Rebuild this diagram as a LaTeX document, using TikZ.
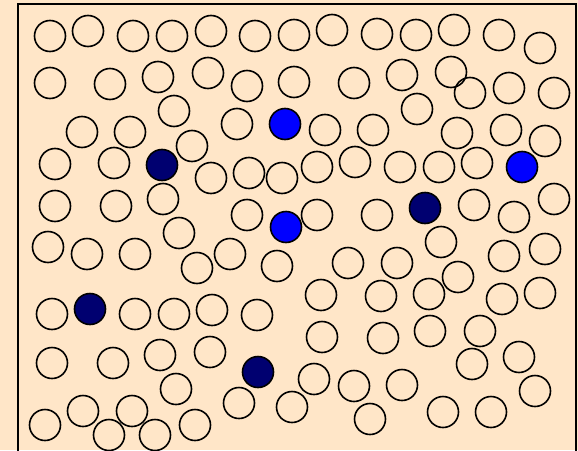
\documentclass[tikz,border=0pt]{standalone}
\definecolor{bg}{HTML}{FFE6C8}
\definecolor{dotblue}{HTML}{0000FF}
\definecolor{dotnavy}{HTML}{000070}
\tikzset{
  ball/.style={circle,draw=black,line width=1.6pt,minimum size=31pt,inner sep=0pt},
  blueball/.style={ball,fill=dotblue},
  navyball/.style={ball,fill=dotnavy},
  frame/.style={draw=black,line width=1.8pt}
}
\begin{document}
\begin{tikzpicture}[x=1pt,y=-1pt]
\useasboundingbox (0,0) rectangle (578,450);
\fill[bg] (0,0) rectangle (578,450);
\begin{scope}
\clip (0,0) rectangle (578,450);
\draw[frame] (18,4) rectangle (576,470);
\end{scope}
\foreach \x/\y [count=\i] in {
50/36,88/31,133/36,172/36,211/31,255/36,294/35,332/30,377/34,416/35,454/30,499/35,540/48,
50/83,110/84,158/77,208/73,247/86,294/82,354/83,402/75,451/72,470/93,509/88,554/93,
174/111,417/109,82/132,130/132,192/146,237/124,325/130,373/130,457/133,506/130,545/141,
55/164,114/163,211/178,249/173,282/178,317/167,355/162,400/167,439/167,477/163,
55/206,116/206,163/199,247/215,317/215,377/215,474/205,514/217,554/199,
179/233,441/242,48/247,87/254,135/254,197/268,230/254,277/266,348/263,397/263,458/277,504/256,545/249,
321/295,381/296,429/294,502/299,540/293,52/314,135/314,174/314,212/310,257/315,
322/337,383/338,430/331,480/331,52/363,113/363,160/355,210/352,314/379,354/386,402/385,472/364,519/357,176/389,535/391,
83/411,132/411,45/425,109/435,155/435,195/425,239/403,292/407,370/419,443/412,491/412}
  \node[ball] (c\i) at (\x,\y) {};
\node[blueball] (b1) at (285,124) {};
\node[blueball] (b2) at (522,167) {};
\node[blueball] (b3) at (286,227) {};
\node[navyball] (n1) at (162,165) {};
\node[navyball] (n2) at (425,208) {};
\node[navyball] (n3) at (90,309) {};
\node[navyball] (n4) at (258,372) {};
\end{tikzpicture}
\end{document}
